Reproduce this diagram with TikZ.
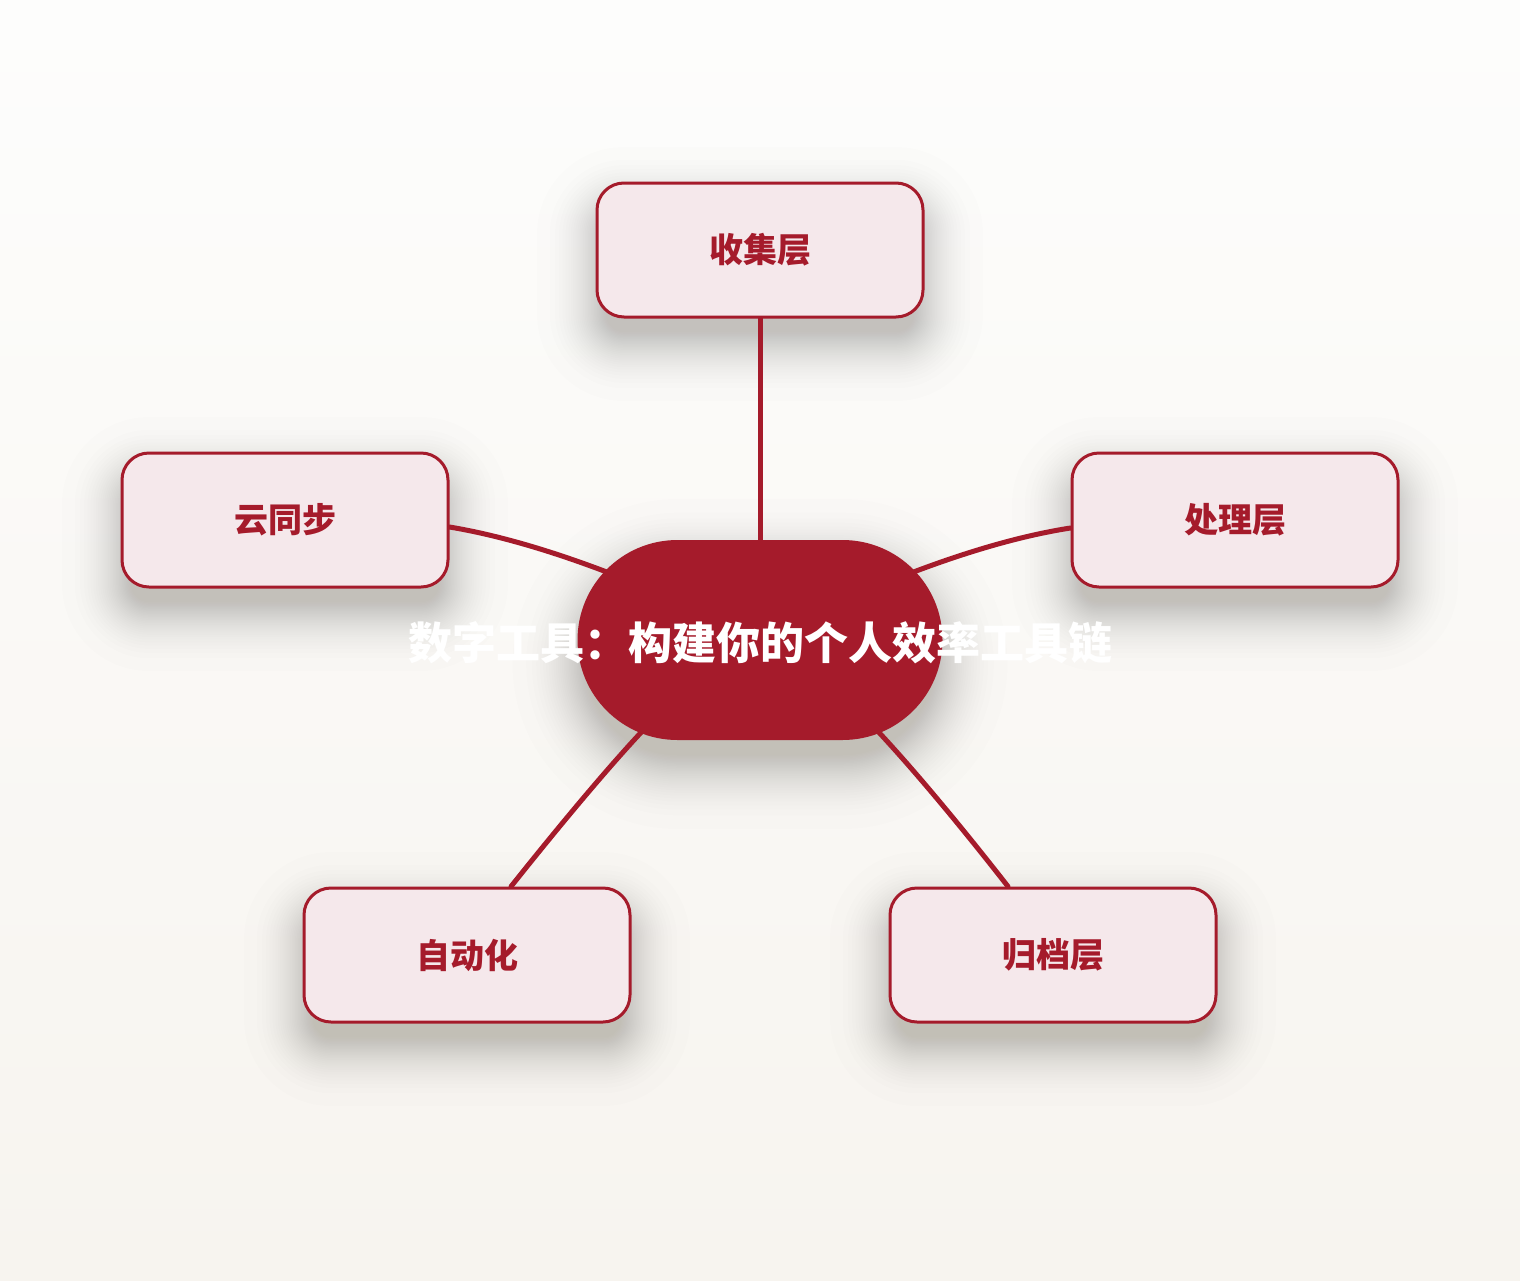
\documentclass[tikz,border=0pt]{standalone}
\usepackage{fontspec}
\setmainfont{Noto Sans CJK SC}[BoldFont={Noto Sans CJK SC Black}]
\usetikzlibrary{calc}
\definecolor{brand}{HTML}{A51B2B}
\definecolor{leaffill}{HTML}{F5E8EB}
\definecolor{bgtop}{HTML}{FDFDFC}
\definecolor{bgbot}{HTML}{F7F4EF}
\definecolor{shadowcol}{HTML}{4A4538}
\pgfdeclarelayer{bg}
\pgfdeclarelayer{shadow}
\pgfdeclarelayer{conn}
\pgfsetlayers{bg,shadow,conn,main}
\newcommand\softshadow[6]{% cx cy w h r spread
  \foreach \k in {0,...,29}{%
    \pgfmathsetmacro\ex{#6*(1-sqrt(\k/30))-10}%
    \pgfmathsetmacro\rr{max(#5+\ex,2)}%
    \fill[shadowcol,opacity=0.0075,rounded corners=\rr pt]
      (#1-#3/2-\ex,#2-#4/2-\ex+24) rectangle (#1+#3/2+\ex,#2+#4/2+\ex+24);
  }}
\tikzset{
  leaf/.style={draw=brand,line width=3pt,fill=leaffill,rounded corners=27pt,
    minimum width=326pt,minimum height=134pt,inner sep=0pt,
    text=brand,font=\fontsize{34pt}{40pt}\selectfont\bfseries},
  hubshape/.style={fill=brand,rounded corners=100pt,minimum width=365pt,
    minimum height=200pt,inner sep=0pt},
  titletext/.style={text=white,inner sep=0pt,font=\fontsize{44pt}{50pt}\selectfont\bfseries},
  conn/.style={draw=brand,line width=5pt,line cap=round}
}
\begin{document}
\begin{tikzpicture}[x=1pt,y=-1pt]
\useasboundingbox (0,0) rectangle (1520,1280);
\begin{pgfonlayer}{bg}
  \shade[top color=bgtop,bottom color=bgbot] (0,0) rectangle (1520,1280);
\end{pgfonlayer}
\begin{pgfonlayer}{shadow}
  \softshadow{760}{250}{326}{134}{27}{70}
  \softshadow{285}{520}{326}{134}{27}{70}
  \softshadow{1235}{520}{326}{134}{27}{70}
  \softshadow{467}{955}{326}{134}{27}{70}
  \softshadow{1053}{955}{326}{134}{27}{70}
  \softshadow{760}{640}{365}{200}{100}{75}
\end{pgfonlayer}
\node[leaf] (collect) at (760,250) {收集层};
\node[leaf] (cloud) at (285,520) {云同步};
\node[leaf] (process) at (1235,520) {处理层};
\node[leaf] (auto) at (467,955) {自动化};
\node[leaf] (archive) at (1053,955) {归档层};
\node[hubshape] (hub) at (760,640) {};
\node[titletext] (title) at (760,643) {数字工具：构建你的个人效率工具链};
\begin{pgfonlayer}{conn}
  \draw[conn] (collect.south) -- (hub.center);
  \draw[conn] ([yshift=-7pt]cloud.east) .. controls (540,542) and (650,585) .. (hub.center);
  \draw[conn] ([yshift=-8pt]process.west) .. controls (980,542) and (870,585) .. (hub.center);
  \coordinate (hbl) at ($(hub.center)+(-112,85)$);
  \coordinate (hbr) at ($(hub.center)+(112,85)$);
  \draw[conn] ([xshift=44pt]auto.north) .. controls (560,825) and (610,765) .. (hbl);
  \draw[conn] ([xshift=-45pt]archive.north) .. controls (960,825) and (910,765) .. (hbr);
\end{pgfonlayer}
\end{tikzpicture}
\end{document}
